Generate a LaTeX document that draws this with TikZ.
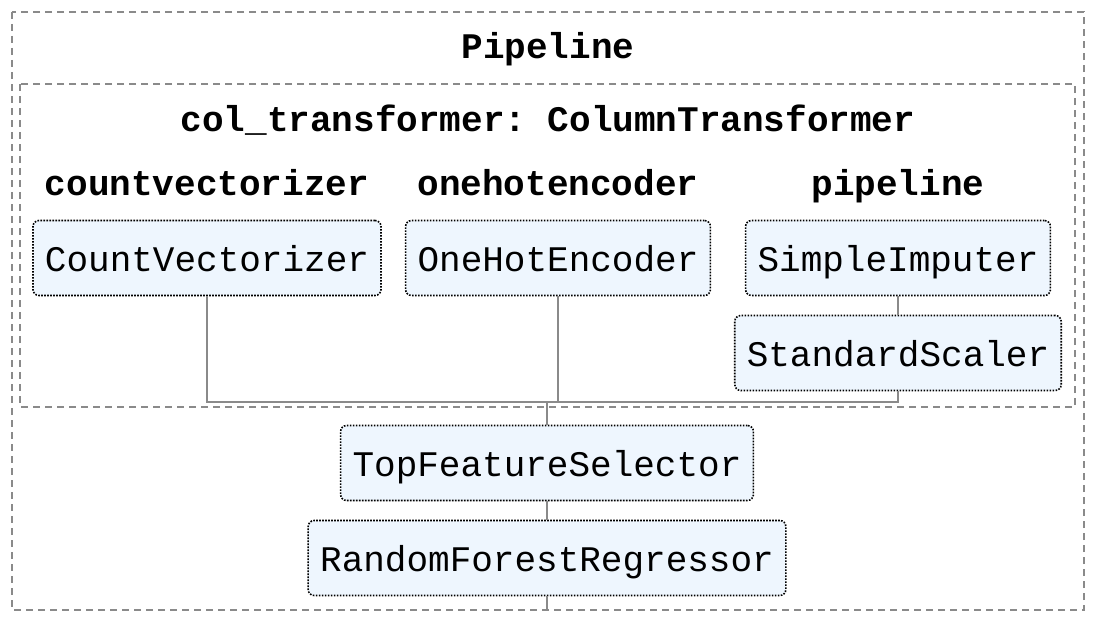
\documentclass[tikz,border=0pt]{standalone}
\usepackage{fontspec}
\setmonofont{Liberation Mono}
\usepackage{tikz}
\usetikzlibrary{positioning}
\definecolor{boxfill}{HTML}{EEF6FE}
\definecolor{linegray}{HTML}{8A8A8A}

\begin{document}
\begin{tikzpicture}[x=1pt,y=-1pt,
   font=\ttfamily\fontsize{36}{40}\selectfont,
   stepbox/.style={draw,fill=boxfill,rounded corners=6pt,line width=1.6pt,
      dash pattern=on 1.6pt off 1.4pt,inner xsep=12pt,minimum height=75pt,
      text height=26pt,text depth=0pt},
   group/.style={draw=linegray,line width=1.3pt,dash pattern=on 7pt off 5pt},
   title/.style={font=\ttfamily\bfseries\fontsize{36}{40}\selectfont,
      text height=26pt,text depth=0pt},
   wire/.style={draw=linegray,line width=1.6pt}]
   \useasboundingbox (0,0) rectangle (1094,626);
   \draw [group] (12,12) rectangle (1084,610); % pipeline
   \draw [group] (20,84) rectangle (1075,407); % column transformer
   \node [title] (pipe) at (548,46) {Pipeline};
   \node [title] (ct) at (548,118) {col\_transformer: ColumnTransformer};
   \node [title] (cvname) at (207,182) {countvectorizer};
   \node [title] (ohename) at (558,182) {onehotencoder};
   \node [title] (plname) at (898,182) {pipeline};
   \node [stepbox] (cv) at (207,258) {CountVectorizer};
   \node [stepbox] (ohe) at (558,258) {OneHotEncoder};
   \node [stepbox] (imp) at (898,258) {SimpleImputer};
   \node [stepbox] (ss) at (898,353) {StandardScaler};
   \node [stepbox] (tfs) at (547,463) {TopFeatureSelector};
   \node [stepbox] (rfr) at (547,558) {RandomForestRegressor};
   \coordinate (join) at (547,402);
   \coordinate (out) at (547,610);
   \draw [wire] (cv.south) -- (cv.south |- join) -- (ss.south |- join) -- (ss.south); % merge
   \draw [wire] (ohe.south) -- (ohe.south |- join);
   \draw [wire] (imp.south) -- (ss.north);
   \draw [wire] (join) -- (tfs.north);
   \draw [wire] (tfs.south) -- (rfr.north);
   \draw [wire] (rfr.south) -- (out);
\end{tikzpicture}
\end{document}
